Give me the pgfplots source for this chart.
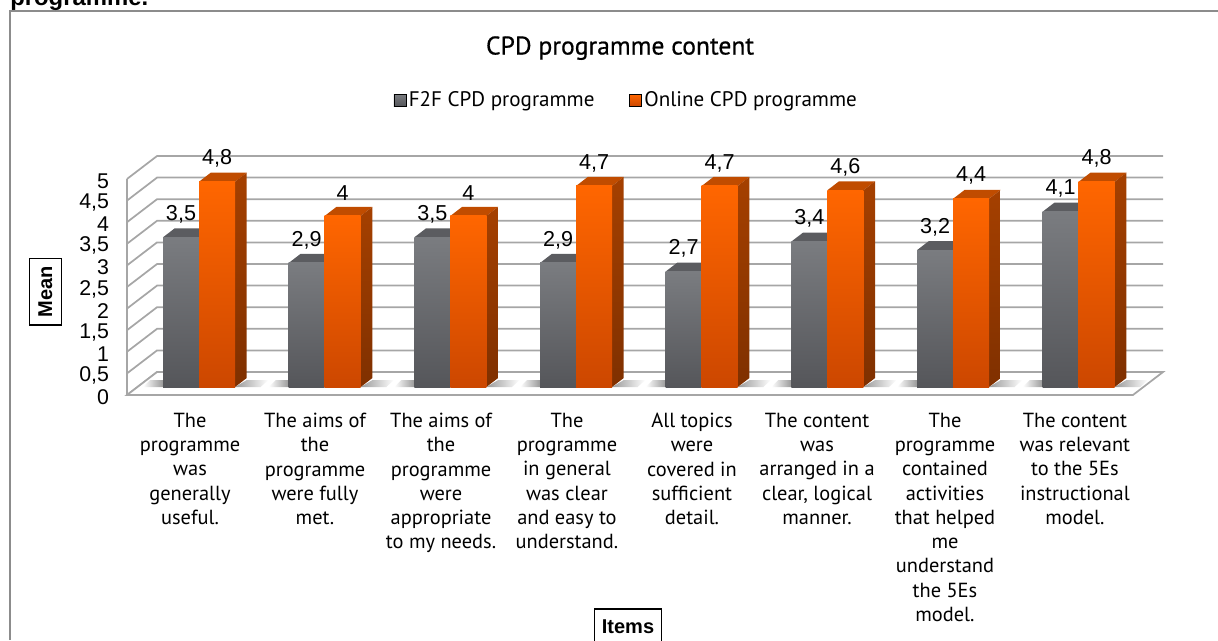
\documentclass[border=0pt]{standalone}
\usepackage{pgfplots}
\pgfplotsset{compat=1.18}
\usepackage{fontspec}
\setmainfont{Liberation Sans}
\newfontfamily\fg{PT Sans}
\definecolor{gridc}{HTML}{A6A6A6}
\definecolor{grayTop}{HTML}{7A7C80}
\definecolor{grayBot}{HTML}{55565A}
\definecolor{grayCap}{HTML}{5B5C60}
\definecolor{oraTop}{HTML}{FF6600}
\definecolor{oraBot}{HTML}{CC4700}
\definecolor{oraCap}{HTML}{C04C00}
\definecolor{oraSideT}{HTML}{A54000}
\definecolor{oraSideB}{HTML}{7F3000}
\definecolor{shad}{HTML}{999999}
% #1 left edge of bar (category units), #2 value, #3 front top, #4 front bottom, #5 cap, #6 side top, #7 side bottom
\newcommand\tbar[7]{%
  \pgfmathsetmacro\xa{#1}%
  \pgfmathsetmacro\xb{#1+0.2865}%
  \pgfmathsetmacro\xc{#1+0.2865+0.0931}%
  \pgfmathsetmacro\xd{#1+0.0931}%
  \pgfmathsetmacro\yt{0.185+0.99*#2}%
  \pgfmathsetmacro\ytt{\yt+0.208}%
  \pgfmathsetmacro\ybb{0.185+0.208}%
  \addplot[forget plot,draw=none,fill=#5] coordinates {(\xa,\yt) (\xd,\ytt) (\xc,\ytt) (\xb,\yt)} -- cycle;
  \addplot[forget plot,draw=none,top color=#6,bottom color=#7] coordinates {(\xb,0.185) (\xc,\ybb) (\xc,\ytt) (\xb,\yt)} -- cycle;
  \addplot[forget plot,draw=none,top color=#3,bottom color=#4] coordinates {(\xa,0.185) (\xb,0.185) (\xb,\yt) (\xa,\yt)} -- cycle;
}
\newcommand\tlabel[2]{%
  \pgfmathsetmacro\xa{#1+0.1433}%
  \pgfmathsetmacro\yt{0.185+0.99*#2}%
  \addplot[forget plot,draw=none,mark=none,point meta=explicit,nodes near coords,
    every node near coord/.style={anchor=center,yshift=17.2pt,font=\fontsize{16.2}{18}\selectfont,text=black}]
    coordinates {(\xa,\yt) [#2]};
}
\newcommand\shadow[1]{%
  \pgfmathsetmacro\sa{#1-0.4443}\pgfmathsetmacro\sb{#1-0.3900}\pgfmathsetmacro\sc{#1-0.2865}%
  \pgfmathsetmacro\sd{#1+0.2865}\pgfmathsetmacro\se{#1+0.3796}\pgfmathsetmacro\sf{#1+0.5500}\pgfmathsetmacro\sg{#1+0.4900}%
  \addplot[forget plot,draw=none,left color=white,right color=shad] coordinates {(\sa,0.185) (\sb,0.345) (\sc,0.345) (\sc,0.185)} -- cycle;
  \addplot[forget plot,draw=none,left color=shad,right color=white] coordinates {(\sd,0.185) (\se,0.345) (\sf,0.345) (\sg,0.185)} -- cycle;
}
\newcommand\group[3]{%
  \shadow{#1}%
  \pgfmathsetmacro\lg{#1-0.2865}%
  \tbar{\lg}{#2}{grayTop}{grayBot}{grayCap}{grayCap}{grayBot}%
  \tbar{#1}{#3}{oraTop}{oraBot}{oraCap}{oraSideT}{oraSideB}%
  \pgfmathsetmacro\lg{#1-0.2865}%
  \tlabel{\lg}{#2}%
  \tlabel{#1}{#3}%
}
\begin{document}
\begin{tikzpicture}
\useasboundingbox (0,0) rectangle (913.5pt,480pt);
\clip (0,0) rectangle (913.5pt,480pt);
\draw[color=gray!90,line width=1.1pt] (7.5pt,0) -- (7.5pt,471.7pt) -- (913.5pt,471.7pt);
\node[anchor=base west,inner sep=0pt,font=\bfseries\fontsize{17.9}{20}\selectfont] at (7.5pt,476pt) {programme.};
\begin{axis}[
  at={(95.25pt,183.75pt)},anchor=south west,
  scale only axis,width=777pt,height=179.25pt,
  xmin=-0.573,xmax=7.671,ymin=0,ymax=5.532,
  clip=false,axis line style={draw=none},
  major tick length=0pt,
  /pgf/number format/.cd,use comma,assume math mode=true,/pgfplots/.cd,
  ytick={0,0.5,1,1.5,2,2.5,3,3.5,4,4.5,5},
  xtick={-0.0716,0.923,1.926,2.928,3.923,4.918,5.936,6.970},
  xticklabels={{The\\programme\\was\\generally\\useful.},
    {The aims of\\the\\programme\\were fully\\met.},
    {The aims of\\the\\programme\\were\\appropriate\\to my needs.},
    {The\\programme\\in general\\was clear\\and easy to\\understand.},
    {All topics\\were\\covered in\\sufficient\\detail.},
    {The content\\was\\arranged in a\\clear, logical\\manner.},
    {The\\programme\\contained\\activities\\that helped\\me\\understand\\the 5Es\\model.},
    {The content\\was relevant\\to the 5Es\\instructional\\model.}},
  xticklabel style={align=center,anchor=north,yshift=-10pt,
    font=\fg\fontsize{15.3}{18.2}\selectfont},
  yticklabel style={font=\fontsize{16}{18}\selectfont,anchor=east,xshift=-10pt,yshift=-1.5pt},
  title={\fontspec{PT Sans}[FakeBold=0.6]CPD programme content},
  title style={at={(rel axis cs:0.4759,1.418)},anchor=center,yshift=0pt,font=\fontsize{19.2}{22}\selectfont},
  xlabel={\bfseries Items},
  xlabel style={at={(rel axis cs:0.4836,-0.971)},anchor=center,draw=black,line width=0.9pt,inner sep=0pt,
    minimum width=50pt,minimum height=27pt,font=\fontsize{15}{18}\selectfont},
  ylabel={\bfseries Mean},
  ylabel style={at={(rel axis cs:-0.0787,0.432)},anchor=center,draw=black,line width=0.9pt,inner sep=0pt,
    minimum width=50pt,minimum height=24.5pt,font=\fontsize{15}{18}\selectfont},
  legend style={at={(rel axis cs:0.4822,1.234)},anchor=center,legend columns=2,draw=none,fill=none,
    font=\fg\fontsize{15.8}{18}\selectfont,
    /tikz/every even column/.append style={column sep=24pt}},
]
\addlegendimage{legend image code/.code={\fill[top color=grayTop,bottom color=grayBot] (0.15cm,-4.5pt) rectangle (0.15cm+9pt,4.5pt);}}
\addlegendentry{F2F CPD programme}
\addlegendimage{legend image code/.code={\fill[top color=oraTop,bottom color=oraBot] (0.15cm,-4.5pt) rectangle (0.15cm+9pt,4.5pt);}}
\addlegendentry{Online CPD programme}
\pgfplotsinvokeforeach{0,0.5,1,1.5,2,2.5,3,3.5,4,4.5,5}{
  \pgfmathsetmacro\yb{#1+0.532}
  \addplot[forget plot,gridc,line width=1.3pt,mark=none] coordinates {(-0.573,#1) (-0.334,\yb) (7.671,\yb)};
}
\addplot[forget plot,gridc,line width=1.3pt,mark=none,fill=white] coordinates {(-0.573,0) (7.432,0) (7.671,0.532) (-0.334,0.532)} -- cycle;
\addplot[forget plot,gridc,line width=1.3pt,mark=none] coordinates {(-0.573,0) (-0.573,5)};
\group{0}{3.5}{4.8}
\group{1}{2.9}{4}
\group{2}{3.5}{4}
\group{3}{2.9}{4.7}
\group{4}{2.7}{4.7}
\group{5}{3.4}{4.6}
\group{6}{3.2}{4.4}
\group{7}{4.1}{4.8}
\end{axis}
\end{tikzpicture}
\end{document}
